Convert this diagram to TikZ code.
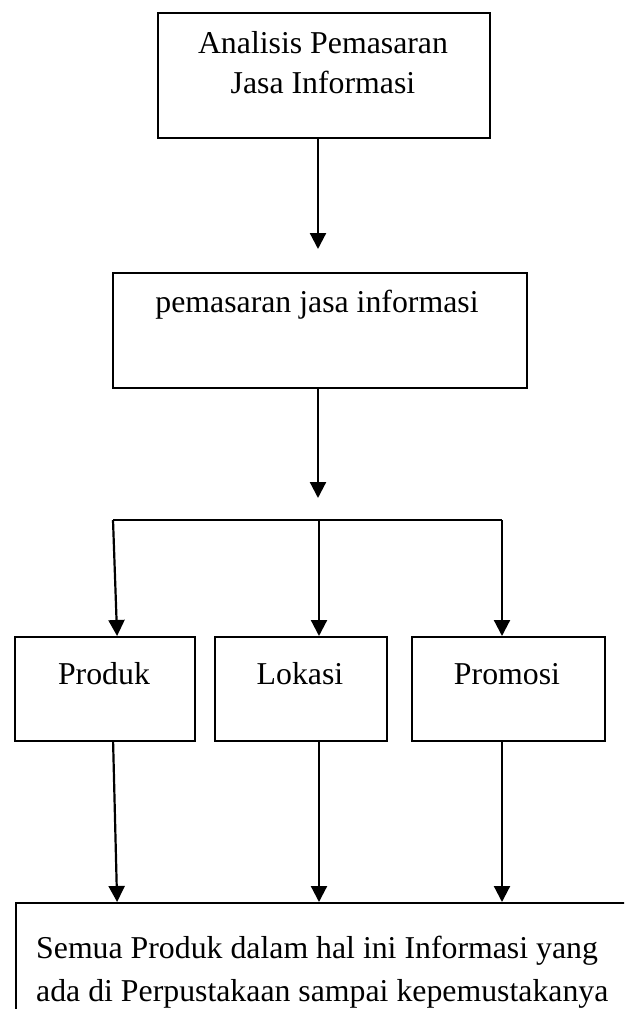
\documentclass[tikz,border=0pt]{standalone}
\usepackage{fontspec}
\setmainfont{Liberation Serif}
\usetikzlibrary{arrows.meta}
\begin{document}
\begin{tikzpicture}[x=1pt,y=-1pt,
  box/.style={draw, line width=2.2pt, inner sep=0pt, anchor=north west},
  txt/.style={inner sep=0pt, font=\fontsize{31.8}{40}\selectfont},
  conn/.style={line width=2.2pt},
  arr/.style={line width=2.2pt, -{Triangle[width=16pt,length=16pt]}}]
\useasboundingbox (0,0) rectangle (624,1009);
\clip (0,0) rectangle (624,1009);
% boxes
\node[box, minimum width=332pt, minimum height=125pt] (top) at (157,12) {};
\node[box, minimum width=414pt, minimum height=115pt] (mid) at (112,272) {};
\node[box, minimum width=180pt, minimum height=104pt] (produk) at (14,636) {};
\node[box, minimum width=172pt, minimum height=104pt] (lokasi) at (214,636) {};
\node[box, minimum width=193pt, minimum height=104pt] (promosi) at (411,636) {};
\node[box, minimum width=700pt, minimum height=300pt] (bottom) at (15,902) {};
% texts
\node[txt, anchor=base, align=center] (toptext) at (323,93) {Analisis Pemasaran\\Jasa Informasi};
\node[txt, anchor=base] (midtext) at (317,312) {pemasaran jasa informasi};
\node[txt, anchor=base] (produktext) at (104,684) {Produk};
\node[txt, anchor=base] (lokasitext) at (300,684) {Lokasi};
\node[txt, anchor=base] (promositext) at (507,684) {Promosi};
\node[txt, anchor=base west, align=left, font=\fontsize{31.8}{43}\selectfont] (bottomtext) at (36,1001)
  {Semua Produk dalam hal ini Informasi yang\\ada di Perpustakaan sampai kepemustakanya};
% connectors
\coordinate (t1) at (318,249);
\coordinate (t2) at (318,498);
\draw[arr] (t1 |- top.south) -- (t1);
\draw[arr] (t2 |- mid.south) -- (t2);
\coordinate (bl) at (113,520);
\coordinate (bm) at (319,520);
\coordinate (br) at (502,520);
\draw[conn] (bl) -- (br);
\coordinate (pin) at ([xshift=12pt]produk.north);
\coordinate (pout) at ([xshift=8pt]produk.south);
\draw[arr] (bl) -- (pin);
\draw[arr] (bm) -- (bm |- lokasi.north);
\draw[arr] (br) -- (br |- promosi.north);
\draw[arr] (pout) -- (pin |- bottom.north);
\draw[arr] (bm |- lokasi.south) -- (bm |- bottom.north);
\draw[arr] (br |- promosi.south) -- (br |- bottom.north);
\end{tikzpicture}
\end{document}
